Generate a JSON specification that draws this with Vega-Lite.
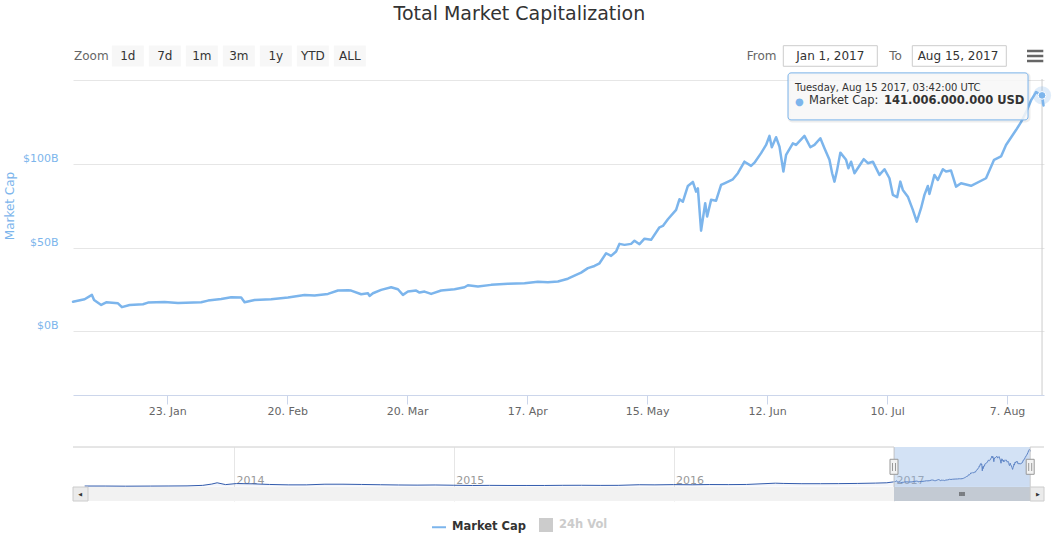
{
"$schema":"https://vega.github.io/schema/vega-lite/v6.json",
"background":"#ffffff",
"padding":{"left":3,"top":5,"right":4,"bottom":2},
"title":{"text":"Total Market Capitalization","fontSize":19,"fontWeight":"normal","color":"#333333","offset":21,"anchor":"middle","dx":-8},
"datasets":{
"tip":[{"date":"2017-08-15T03:42:00","value":141.006}],
"mc":[
{"date":"2017-01-01T00:00","value":17.7},{"date":"2017-01-03T17:00","value":19.2},{"date":"2017-01-05T10:00","value":21.8},{"date":"2017-01-05T22:00","value":18.8},{"date":"2017-01-07T14:00","value":15.8},{"date":"2017-01-08T18:00","value":17.4},{"date":"2017-01-11T12:00","value":16.8},{"date":"2017-01-12T10:00","value":14.5},{"date":"2017-01-14T05:00","value":15.8},{"date":"2017-01-17T08:00","value":16.2},{"date":"2017-01-18T12:00","value":17.2},{"date":"2017-01-22T09:00","value":17.6},{"date":"2017-01-25T12:00","value":17.0},{"date":"2017-01-30T22:00","value":17.4},
{"date":"2017-02-01T12:00","value":18.4},{"date":"2017-02-04T14:00","value":19.4},{"date":"2017-02-06T22:00","value":20.4},{"date":"2017-02-09T06:00","value":20.2},{"date":"2017-02-10T01:00","value":17.4},{"date":"2017-02-12T09:00","value":18.8},{"date":"2017-02-16T06:00","value":19.2},{"date":"2017-02-20T04:00","value":20.2},{"date":"2017-02-24T01:00","value":21.8},{"date":"2017-02-26T09:00","value":21.4},
{"date":"2017-03-01T12:00","value":22.4},{"date":"2017-03-03T20:00","value":24.4},{"date":"2017-03-06T04:00","value":24.6},{"date":"2017-03-06T22:00","value":24.4},{"date":"2017-03-09T06:00","value":22.2},{"date":"2017-03-10T20:00","value":22.8},{"date":"2017-03-11T05:00","value":21.2},{"date":"2017-03-12T00:00","value":22.8},{"date":"2017-03-13T22:00","value":24.8},{"date":"2017-03-16T06:00","value":26.4},{"date":"2017-03-17T20:00","value":25.2},{"date":"2017-03-19T00:00","value":21.8},{"date":"2017-03-20T04:00","value":23.8},{"date":"2017-03-22T02:00","value":24.4},{"date":"2017-03-22T21:00","value":23.2},{"date":"2017-03-24T01:00","value":23.8},{"date":"2017-03-25T14:00","value":22.4},{"date":"2017-03-27T22:00","value":24.4},{"date":"2017-03-31T01:00","value":25.2},
{"date":"2017-04-02T09:00","value":26.4},{"date":"2017-04-03T04:00","value":27.6},{"date":"2017-04-05T12:00","value":26.8},{"date":"2017-04-08T14:00","value":27.8},{"date":"2017-04-12T12:00","value":28.4},{"date":"2017-04-16T09:00","value":28.8},{"date":"2017-04-19T12:00","value":29.6},{"date":"2017-04-21T20:00","value":29.4},{"date":"2017-04-24T04:00","value":29.8},{"date":"2017-04-26T12:00","value":31.5},{"date":"2017-04-28T10:00","value":33.8},{"date":"2017-04-29T14:00","value":35.1},
{"date":"2017-05-01T04:00","value":37.8},{"date":"2017-05-02T17:00","value":39.1},{"date":"2017-05-03T21:00","value":40.7},{"date":"2017-05-05T10:00","value":46.7},{"date":"2017-05-06T14:00","value":45.1},{"date":"2017-05-07T18:00","value":47.7},{"date":"2017-05-08T13:00","value":52.3},{"date":"2017-05-09T17:00","value":51.7},{"date":"2017-05-11T06:00","value":52.3},{"date":"2017-05-12T01:00","value":54.2},{"date":"2017-05-13T05:00","value":52.1},{"date":"2017-05-14T09:00","value":55.4},{"date":"2017-05-15T22:00","value":54.7},{"date":"2017-05-17T21:00","value":62.2},{"date":"2017-05-18T16:00","value":63.0},{"date":"2017-05-19T20:00","value":67.0},{"date":"2017-05-21T18:00","value":72.6},{"date":"2017-05-22T13:00","value":79.0},{"date":"2017-05-23T08:00","value":77.5},{"date":"2017-05-24T12:00","value":86.9},{"date":"2017-05-25T16:00","value":89.3},{"date":"2017-05-26T10:00","value":83.5},{"date":"2017-05-26T20:00","value":85.5},{"date":"2017-05-27T14:00","value":60.2},{"date":"2017-05-28T13:00","value":76.6},{"date":"2017-05-29T00:00","value":68.6},{"date":"2017-05-29T22:00","value":78.6},{"date":"2017-05-31T02:00","value":78.1},
{"date":"2017-06-01T06:00","value":87.5},{"date":"2017-06-02T01:00","value":88.5},{"date":"2017-06-04T00:00","value":90.9},{"date":"2017-06-05T04:00","value":94.5},{"date":"2017-06-06T17:00","value":101.4},{"date":"2017-06-08T06:00","value":98.9},{"date":"2017-06-09T01:00","value":100.8},{"date":"2017-06-10T14:00","value":106.5},{"date":"2017-06-11T18:00","value":111.4},{"date":"2017-06-12T13:00","value":116.8},{"date":"2017-06-13T02:00","value":110.0},{"date":"2017-06-14T02:00","value":116.0},{"date":"2017-06-14T21:00","value":110.4},{"date":"2017-06-15T19:00","value":95.5},{"date":"2017-06-16T10:00","value":105.4},{"date":"2017-06-18T00:00","value":112.4},{"date":"2017-06-18T18:00","value":111.4},{"date":"2017-06-20T17:00","value":116.8},{"date":"2017-06-22T02:00","value":110.0},{"date":"2017-06-23T01:00","value":111.4},{"date":"2017-06-24T10:00","value":115.4},{"date":"2017-06-25T09:00","value":109.4},{"date":"2017-06-26T13:00","value":102.5},{"date":"2017-06-27T04:00","value":94.5},{"date":"2017-06-27T17:00","value":89.5},{"date":"2017-06-28T08:00","value":96.5},{"date":"2017-06-29T02:00","value":106.8},{"date":"2017-06-30T10:00","value":102.5},{"date":"2017-06-30T23:00","value":97.5},
{"date":"2017-07-01T14:00","value":101.4},{"date":"2017-07-02T09:00","value":94.5},{"date":"2017-07-03T22:00","value":100.5},{"date":"2017-07-04T13:00","value":102.9},{"date":"2017-07-05T12:00","value":100.5},{"date":"2017-07-06T16:00","value":101.4},{"date":"2017-07-08T05:00","value":93.5},{"date":"2017-07-09T09:00","value":96.9},{"date":"2017-07-10T13:00","value":91.5},{"date":"2017-07-11T08:00","value":81.6},{"date":"2017-07-12T08:00","value":80.2},{"date":"2017-07-13T02:00","value":89.5},{"date":"2017-07-13T16:00","value":84.5},{"date":"2017-07-14T20:00","value":80.5},{"date":"2017-07-16T00:00","value":72.6},{"date":"2017-07-16T22:00","value":65.6},{"date":"2017-07-17T22:00","value":73.6},{"date":"2017-07-18T17:00","value":81.6},{"date":"2017-07-19T12:00","value":86.9},{"date":"2017-07-19T21:00","value":82.1},{"date":"2017-07-21T01:00","value":93.5},{"date":"2017-07-21T20:00","value":90.5},{"date":"2017-07-23T00:00","value":96.9},{"date":"2017-07-23T18:00","value":95.5},{"date":"2017-07-24T22:00","value":96.1},{"date":"2017-07-26T02:00","value":86.5},{"date":"2017-07-27T06:00","value":88.5},{"date":"2017-07-29T14:00","value":87.0},
{"date":"2017-08-02T02:00","value":91.5},{"date":"2017-08-03T23:00","value":102.5},{"date":"2017-08-05T14:00","value":104.5},{"date":"2017-08-06T18:00","value":111.4},{"date":"2017-08-09T02:00","value":120.3},{"date":"2017-08-10T06:00","value":125.0},{"date":"2017-08-11T10:00","value":131.0},{"date":"2017-08-12T14:00","value":138.0},{"date":"2017-08-13T18:00","value":143.0},{"date":"2017-08-15T03:42","value":141.006},{"date":"2017-08-15T12:00","value":135.0}
],
"hist":[
{"date":"2013-04-28T00:00","value":1.5},{"date":"2013-06-01T00:00","value":1.4},{"date":"2013-07-05T00:00","value":0.9},{"date":"2013-08-15T00:00","value":1.3},{"date":"2013-09-15T00:00","value":1.6},{"date":"2013-10-15T00:00","value":2.0},{"date":"2013-11-10T00:00","value":4.0},{"date":"2013-11-25T00:00","value":9.0},{"date":"2013-12-04T00:00","value":14.0},{"date":"2013-12-18T00:00","value":7.0},
{"date":"2014-01-05T00:00","value":11.0},{"date":"2014-02-01T00:00","value":10.0},{"date":"2014-03-01T00:00","value":7.5},{"date":"2014-04-01T00:00","value":6.0},{"date":"2014-05-01T00:00","value":6.0},{"date":"2014-06-01T00:00","value":8.5},{"date":"2014-07-01T00:00","value":8.5},{"date":"2014-08-01T00:00","value":7.5},{"date":"2014-09-01T00:00","value":6.5},{"date":"2014-10-01T00:00","value":5.5},{"date":"2014-11-01T00:00","value":5.0},{"date":"2014-12-01T00:00","value":5.5},
{"date":"2015-01-01T00:00","value":4.5},{"date":"2015-02-01T00:00","value":3.5},{"date":"2015-03-01T00:00","value":4.0},{"date":"2015-04-01T00:00","value":3.6},{"date":"2015-05-01T00:00","value":3.6},{"date":"2015-06-01T00:00","value":3.6},{"date":"2015-07-01T00:00","value":4.2},{"date":"2015-08-01T00:00","value":4.4},{"date":"2015-09-01T00:00","value":3.9},{"date":"2015-10-01T00:00","value":4.1},{"date":"2015-11-05T00:00","value":6.5},{"date":"2015-12-01T00:00","value":6.0},
{"date":"2016-01-01T00:00","value":7.0},{"date":"2016-02-01T00:00","value":6.3},{"date":"2016-03-01T00:00","value":7.3},{"date":"2016-04-01T00:00","value":7.0},{"date":"2016-05-01T00:00","value":7.5},{"date":"2016-06-18T00:00","value":12.5},{"date":"2016-07-01T00:00","value":11.5},{"date":"2016-08-01T00:00","value":10.5},{"date":"2016-09-01T00:00","value":10.5},{"date":"2016-10-01T00:00","value":10.8},{"date":"2016-11-01T00:00","value":11.5},{"date":"2016-12-01T00:00","value":12.8},{"date":"2016-12-20T00:00","value":14.0},{"date":"2017-01-01T00:00","value":17.7}
]
},
"spacing":52,
"bounds":"flush",
"resolve":{"scale":{"x":"independent","y":"independent"}},
"vconcat":[
{
"width":971,"height":316,
"layer":[
{"data":{"name":"tip"},"mark":{"type":"rule","color":"#cccccc","strokeWidth":1},
 "encoding":{"x":{"field":"date","type":"temporal","scale":{"domain":[{"year":2017,"month":1,"date":1},{"year":2017,"month":8,"date":15,"hours":14,"minutes":40}]},
  "axis":{"values":[{"year":2017,"month":1,"date":23},{"year":2017,"month":2,"date":20},{"year":2017,"month":3,"date":20},{"year":2017,"month":4,"date":17},{"year":2017,"month":5,"date":15},{"year":2017,"month":6,"date":12},{"year":2017,"month":7,"date":10},{"year":2017,"month":8,"date":7}],
  "format":"%-d. %b","grid":false,"domainColor":"#ccd6eb","tickColor":"#ccd6eb","tickSize":9,"labelColor":"#666666","labelFontSize":11,"labelPadding":1,"title":null,"labelFlush":false,"labelOverlap":false}}}},
{"data":{"name":"mc"},"mark":{"type":"line","strokeWidth":2.5,"strokeJoin":"round","strokeCap":"round"},
 "encoding":{"x":{"field":"date","type":"temporal"},
  "y":{"field":"value","type":"quantitative","scale":{"domain":[-38,150.8],"nice":false,"zero":false},
   "axis":{"values":[0,50,100,150],"labelExpr":"datum.value == 150 ? '' : '$' + datum.value + 'B'","title":"Market Cap","titleColor":"#7cb5ec","titleFontSize":12,"titleFontWeight":"normal","titleX":-63.3,"titleY":126.5,"titleAngle":270,"titleAlign":"center","titleBaseline":"middle","labelColor":"#7cb5ec","labelFontSize":11,"labelPadding":15,"labelBaseline":"alphabetic","labelOffset":-2.5,"domain":false,"ticks":false,"grid":true,"gridColor":"#e6e6e6"}},
  "color":{"datum":"Market Cap","scale":{"domain":["Market Cap","24h Vol"],"range":["#7cb5ec","#cccccc"]},
   "legend":{"orient":"none","legendX":358,"legendY":438,"direction":"horizontal","title":null,"labelFontSize":11.5,"labelFontWeight":"bold","labelColor":"#333333","labelOffset":5,"columnPadding":10,"symbolSize":196,"symbolStrokeWidth":2,
    "encode":{"symbols":{"update":{"shape":{"signal":"datum.value === '24h Vol' ? 'square' : 'stroke'"},"fill":{"signal":"datum.value === '24h Vol' ? '#cccccc' : 'transparent'"},"stroke":{"signal":"datum.value === '24h Vol' ? 'transparent' : '#7cb5ec'"},"size":{"signal":"datum.value === '24h Vol' ? 144 : 196"}}},
     "labels":{"update":{"fill":{"signal":"datum.value === '24h Vol' ? '#cccccc' : '#333333'"}}}}}}}},
{"data":{"name":"tip"},"mark":{"type":"point","filled":true,"size":330,"color":"#7cb5ec","opacity":0.25},"encoding":{"x":{"field":"date","type":"temporal"},"y":{"field":"value","type":"quantitative"}}},
{"data":{"name":"tip"},"mark":{"type":"point","filled":true,"size":60,"color":"#7cb5ec","stroke":"#ffffff","strokeWidth":1,"opacity":1},"encoding":{"x":{"field":"date","type":"temporal"},"y":{"field":"value","type":"quantitative"}}},
{"data":{"name":"tip"},"mark":{"type":"rect","fill":"#ffffff","fillOpacity":0,"stroke":"#000000","strokeOpacity":0.07,"strokeWidth":3,"cornerRadius":3,"xOffset":-253,"x2Offset":-13,"yOffset":-21.5,"y2Offset":25.5},"encoding":{"x":{"field":"date","type":"temporal"},"x2":{"field":"date"},"y":{"field":"value","type":"quantitative"},"y2":{"field":"value"}}},
{"data":{"name":"tip"},"mark":{"type":"rect","fill":"#f7f7f7","fillOpacity":0.85,"stroke":"#7cb5ec","strokeWidth":1,"cornerRadius":3,"xOffset":-254,"x2Offset":-14,"yOffset":-22.5,"y2Offset":24.5},"encoding":{"x":{"field":"date","type":"temporal"},"x2":{"field":"date"},"y":{"field":"value","type":"quantitative"},"y2":{"field":"value"}}},
{"data":{"name":"tip"},"mark":{"type":"text","align":"left","baseline":"alphabetic","dx":-247,"dy":-4,"fontSize":10,"color":"#333333"},"encoding":{"x":{"field":"date","type":"temporal"},"y":{"field":"value","type":"quantitative"},"text":{"field":"date","type":"temporal","format":"%A, %b %d %Y, %H:%M:%S UTC"}}},
{"data":{"name":"tip"},"mark":{"type":"text","align":"left","baseline":"alphabetic","dx":-247,"dy":10,"fontSize":10,"color":"#7cb5ec"},"encoding":{"x":{"field":"date","type":"temporal"},"y":{"field":"value","type":"quantitative"},"text":{"value":"●"}}},
{"data":{"name":"tip"},"mark":{"type":"text","align":"left","baseline":"alphabetic","dx":-233,"dy":9,"fontSize":11.5,"color":"#333333"},"encoding":{"x":{"field":"date","type":"temporal"},"y":{"field":"value","type":"quantitative"},"text":{"value":"Market Cap:"}}},
{"data":{"name":"tip"},"mark":{"type":"text","align":"left","baseline":"alphabetic","dx":-158,"dy":9,"fontSize":11.5,"fontWeight":"bold","color":"#333333"},"encoding":{"x":{"field":"date","type":"temporal"},"y":{"field":"value","type":"quantitative"},"text":{"value":"141.006.000.000 USD"}}},
{"data":{"values":[{"t":"Zoom"}]},"mark":{"type":"text","align":"left","baseline":"alphabetic","fontSize":12,"color":"#666666"},"encoding":{"x":{"datum":{"year":2017,"month":1,"date":1,"hours":5,"minutes":36},"type":"temporal"},"y":{"datum":162.45,"type":"quantitative"},"text":{"field":"t"}}},
{"data":{"values":[{"t":"1d"}]},"encoding":{"x":{"datum":{"year":2017,"month":1,"date":13,"hours":19,"minutes":13},"type":"temporal"}},"layer":[{"mark":{"type":"rect","fill":"#f7f7f7","xOffset":-16,"x2Offset":16},"encoding":{"x2":{"datum":{"year":2017,"month":1,"date":13,"hours":19,"minutes":13}},"y":{"datum":170.8,"type":"quantitative"},"y2":{"datum":158.3}}},{"mark":{"type":"text","align":"center","baseline":"alphabetic","fontSize":12,"color":"#333333"},"encoding":{"y":{"datum":162.45,"type":"quantitative"},"text":{"field":"t"}}}]},
{"data":{"values":[{"t":"7d"}]},"encoding":{"x":{"datum":{"year":2017,"month":1,"date":22,"hours":10,"minutes":28},"type":"temporal"}},"layer":[{"mark":{"type":"rect","fill":"#f7f7f7","xOffset":-16,"x2Offset":16},"encoding":{"x2":{"datum":{"year":2017,"month":1,"date":22,"hours":10,"minutes":28}},"y":{"datum":170.8,"type":"quantitative"},"y2":{"datum":158.3}}},{"mark":{"type":"text","align":"center","baseline":"alphabetic","fontSize":12,"color":"#333333"},"encoding":{"y":{"datum":162.45,"type":"quantitative"},"text":{"field":"t"}}}]},
{"data":{"values":[{"t":"1m"}]},"encoding":{"x":{"datum":{"year":2017,"month":1,"date":31,"hours":1,"minutes":42},"type":"temporal"}},"layer":[{"mark":{"type":"rect","fill":"#f7f7f7","xOffset":-16,"x2Offset":16},"encoding":{"x2":{"datum":{"year":2017,"month":1,"date":31,"hours":1,"minutes":42}},"y":{"datum":170.8,"type":"quantitative"},"y2":{"datum":158.3}}},{"mark":{"type":"text","align":"center","baseline":"alphabetic","fontSize":12,"color":"#333333"},"encoding":{"y":{"datum":162.45,"type":"quantitative"},"text":{"field":"t"}}}]},
{"data":{"values":[{"t":"3m"}]},"encoding":{"x":{"datum":{"year":2017,"month":2,"date":8,"hours":16,"minutes":57},"type":"temporal"}},"layer":[{"mark":{"type":"rect","fill":"#f7f7f7","xOffset":-16,"x2Offset":16},"encoding":{"x2":{"datum":{"year":2017,"month":2,"date":8,"hours":16,"minutes":57}},"y":{"datum":170.8,"type":"quantitative"},"y2":{"datum":158.3}}},{"mark":{"type":"text","align":"center","baseline":"alphabetic","fontSize":12,"color":"#333333"},"encoding":{"y":{"datum":162.45,"type":"quantitative"},"text":{"field":"t"}}}]},
{"data":{"values":[{"t":"1y"}]},"encoding":{"x":{"datum":{"year":2017,"month":2,"date":17,"hours":8,"minutes":11},"type":"temporal"}},"layer":[{"mark":{"type":"rect","fill":"#f7f7f7","xOffset":-16,"x2Offset":16},"encoding":{"x2":{"datum":{"year":2017,"month":2,"date":17,"hours":8,"minutes":11}},"y":{"datum":170.8,"type":"quantitative"},"y2":{"datum":158.3}}},{"mark":{"type":"text","align":"center","baseline":"alphabetic","fontSize":12,"color":"#333333"},"encoding":{"y":{"datum":162.45,"type":"quantitative"},"text":{"field":"t"}}}]},
{"data":{"values":[{"t":"YTD"}]},"encoding":{"x":{"datum":{"year":2017,"month":2,"date":25,"hours":23,"minutes":25},"type":"temporal"}},"layer":[{"mark":{"type":"rect","fill":"#f7f7f7","xOffset":-16,"x2Offset":16},"encoding":{"x2":{"datum":{"year":2017,"month":2,"date":25,"hours":23,"minutes":25}},"y":{"datum":170.8,"type":"quantitative"},"y2":{"datum":158.3}}},{"mark":{"type":"text","align":"center","baseline":"alphabetic","fontSize":12,"color":"#333333"},"encoding":{"y":{"datum":162.45,"type":"quantitative"},"text":{"field":"t"}}}]},
{"data":{"values":[{"t":"ALL"}]},"encoding":{"x":{"datum":{"year":2017,"month":3,"date":6,"hours":14,"minutes":40},"type":"temporal"}},"layer":[{"mark":{"type":"rect","fill":"#f7f7f7","xOffset":-16,"x2Offset":16},"encoding":{"x2":{"datum":{"year":2017,"month":3,"date":6,"hours":14,"minutes":40}},"y":{"datum":170.8,"type":"quantitative"},"y2":{"datum":158.3}}},{"mark":{"type":"text","align":"center","baseline":"alphabetic","fontSize":12,"color":"#333333"},"encoding":{"y":{"datum":162.45,"type":"quantitative"},"text":{"field":"t"}}}]},
{"data":{"values":[{"t":"From"}]},"mark":{"type":"text","align":"left","baseline":"alphabetic","fontSize":12,"color":"#666666"},"encoding":{"x":{"datum":{"year":2017,"month":6,"date":7,"hours":5,"minutes":25},"type":"temporal"},"y":{"datum":162.45,"type":"quantitative"},"text":{"field":"t"}}},
{"data":{"values":[{"t":"Jan 1, 2017"}]},"layer":[{"mark":{"type":"rect","fill":"#ffffff","stroke":"#cccccc","strokeWidth":1},"encoding":{"x":{"datum":{"year":2017,"month":6,"date":15,"hours":18,"minutes":29},"type":"temporal"},"x2":{"datum":{"year":2017,"month":7,"date":7,"hours":16,"minutes":59}},"y":{"datum":170.7,"type":"quantitative"},"y2":{"datum":158.4}}},{"mark":{"type":"text","align":"center","baseline":"alphabetic","fontSize":12,"color":"#333333"},"encoding":{"x":{"datum":{"year":2017,"month":6,"date":26,"hours":17,"minutes":41},"type":"temporal"},"y":{"datum":162.45,"type":"quantitative"},"text":{"field":"t"}}}]},
{"data":{"values":[{"t":"To"}]},"mark":{"type":"text","align":"left","baseline":"alphabetic","fontSize":12,"color":"#666666"},"encoding":{"x":{"datum":{"year":2017,"month":7,"date":10,"hours":12,"minutes":13},"type":"temporal"},"y":{"datum":162.45,"type":"quantitative"},"text":{"field":"t"}}},
{"data":{"values":[{"t":"Aug 15, 2017"}]},"layer":[{"mark":{"type":"rect","fill":"#ffffff","stroke":"#cccccc","strokeWidth":1},"encoding":{"x":{"datum":{"year":2017,"month":7,"date":15,"hours":21,"minutes":0},"type":"temporal"},"x2":{"datum":{"year":2017,"month":8,"date":6,"hours":19,"minutes":31}},"y":{"datum":170.7,"type":"quantitative"},"y2":{"datum":158.4}}},{"mark":{"type":"text","align":"center","baseline":"alphabetic","fontSize":12,"color":"#333333"},"encoding":{"x":{"datum":{"year":2017,"month":7,"date":26,"hours":12,"minutes":59},"type":"temporal"},"y":{"datum":162.45,"type":"quantitative"},"text":{"field":"t"}}}]},
{"data":{"values":[{}]},"mark":{"type":"rule","color":"#666666","strokeWidth":2.5},"encoding":{"x":{"datum":{"year":2017,"month":8,"date":11,"hours":15,"minutes":26},"type":"temporal"},"x2":{"datum":{"year":2017,"month":8,"date":15,"hours":10,"minutes":44}},"y":{"datum":167.53,"type":"quantitative"}}},
{"data":{"values":[{}]},"mark":{"type":"rule","color":"#666666","strokeWidth":2.5},"encoding":{"x":{"datum":{"year":2017,"month":8,"date":11,"hours":15,"minutes":26},"type":"temporal"},"x2":{"datum":{"year":2017,"month":8,"date":15,"hours":10,"minutes":44}},"y":{"datum":164.54,"type":"quantitative"}}},
{"data":{"values":[{}]},"mark":{"type":"rule","color":"#666666","strokeWidth":2.5},"encoding":{"x":{"datum":{"year":2017,"month":8,"date":11,"hours":15,"minutes":26},"type":"temporal"},"x2":{"datum":{"year":2017,"month":8,"date":15,"hours":10,"minutes":44}},"y":{"datum":161.55,"type":"quantitative"}}}
]
},
{
"width":971,"height":54,
"layer":[
{"data":{"values":[{}]},"mark":{"type":"rect","fill":"#f2f2f2"},"encoding":{"y":{"datum":-2.3,"type":"quantitative","scale":{"domain":[-56.4,152.3],"nice":false,"zero":false},"axis":null},"y2":{"datum":-56.4}}},
{"data":{"name":"hist"},"mark":{"type":"area","color":"#335cad","opacity":0.06},"encoding":{"x":{"field":"date","type":"temporal","scale":{"domain":[{"year":2013,"month":4,"date":8,"hours":15,"minutes":22},{"year":2017,"month":9,"date":7,"hours":2,"minutes":10}]},
  "axis":{"values":[{"year":2014,"month":1,"date":1},{"year":2015,"month":1,"date":1},{"year":2016,"month":1,"date":1},{"year":2017,"month":1,"date":1}],"format":"%Y","grid":true,"gridColor":"#e6e6e6","domain":false,"ticks":false,"tickSize":0,"labelAlign":"left","labelBaseline":"alphabetic","labelPadding":-17.3,"labelOffset":2,"labelColor":"#999999","labelFontSize":11,"title":null,"labelFlush":false,"labelOverlap":false}},
  "y":{"field":"value","type":"quantitative"}}},
{"data":{"name":"mc"},"mark":{"type":"area","color":"#335cad","opacity":0.06},"encoding":{"x":{"field":"date","type":"temporal"},"y":{"field":"value","type":"quantitative"}}},
{"data":{"name":"hist"},"mark":{"type":"line","color":"#335cad","strokeWidth":1},"encoding":{"x":{"field":"date","type":"temporal"},"y":{"field":"value","type":"quantitative"}}},
{"data":{"name":"mc"},"mark":{"type":"line","color":"#335cad","strokeWidth":1},"encoding":{"x":{"field":"date","type":"temporal"},"y":{"field":"value","type":"quantitative"}}},
{"data":{"values":[{}]},"mark":{"type":"rect","fill":"#97bbe6","fillOpacity":0.42},"encoding":{"x":{"datum":{"year":2017,"month":1,"date":1},"type":"temporal"},"x2":{"datum":{"year":2017,"month":8,"date":15,"hours":3,"minutes":42}},"y":{"datum":152.3,"type":"quantitative"},"y2":{"datum":-2.3}}},
{"data":{"values":[{}]},"mark":{"type":"rule","color":"#cccccc","strokeWidth":1},"encoding":{"x":{"datum":{"year":2013,"month":4,"date":8,"hours":15,"minutes":22},"type":"temporal"},"x2":{"datum":{"year":2017,"month":1,"date":1}},"y":{"datum":152.3,"type":"quantitative"}}},
{"data":{"values":[{}]},"mark":{"type":"rule","color":"#cccccc","strokeWidth":1},"encoding":{"x":{"datum":{"year":2017,"month":8,"date":15,"hours":3,"minutes":42},"type":"temporal"},"x2":{"datum":{"year":2017,"month":9,"date":7,"hours":2,"minutes":10}},"y":{"datum":152.3,"type":"quantitative"}}},
{"data":{"values":[{}]},"mark":{"type":"rule","color":"#cccccc","strokeWidth":1},"encoding":{"x":{"datum":{"year":2017,"month":1,"date":1},"type":"temporal"},"y":{"datum":152.3,"type":"quantitative"},"y2":{"datum":-2.3}}},
{"data":{"values":[{}]},"mark":{"type":"rule","color":"#cccccc","strokeWidth":1},"encoding":{"x":{"datum":{"year":2017,"month":8,"date":15,"hours":3,"minutes":42},"type":"temporal"},"y":{"datum":152.3,"type":"quantitative"},"y2":{"datum":-2.3}}},
{"data":{"values":[{}]},"mark":{"type":"rect","fill":"#c3cad3"},"encoding":{"x":{"datum":{"year":2017,"month":1,"date":1},"type":"temporal"},"x2":{"datum":{"year":2017,"month":8,"date":15,"hours":3,"minutes":42}},"y":{"datum":-2.3,"type":"quantitative"},"y2":{"datum":-56.4}}},
{"data":{"values":[{}]},"mark":{"type":"rule","color":"#333333","strokeWidth":1,"xOffset":-2},"encoding":{"x":{"datum":{"year":2017,"month":4,"date":23,"hours":21,"minutes":36},"type":"temporal"},"y":{"datum":-21.6,"type":"quantitative"},"y2":{"datum":-37.1}}},
{"data":{"values":[{}]},"mark":{"type":"rule","color":"#333333","strokeWidth":1},"encoding":{"x":{"datum":{"year":2017,"month":4,"date":23,"hours":21,"minutes":36},"type":"temporal"},"y":{"datum":-21.6,"type":"quantitative"},"y2":{"datum":-37.1}}},
{"data":{"values":[{}]},"mark":{"type":"rule","color":"#333333","strokeWidth":1,"xOffset":2},"encoding":{"x":{"datum":{"year":2017,"month":4,"date":23,"hours":21,"minutes":36},"type":"temporal"},"y":{"datum":-21.6,"type":"quantitative"},"y2":{"datum":-37.1}}},
{"data":{"values":[{}]},"mark":{"type":"rect","fill":"#ebebeb","stroke":"#cccccc","strokeWidth":1},"encoding":{"x":{"datum":{"year":2013,"month":4,"date":8,"hours":15,"minutes":22},"type":"temporal"},"x2":{"datum":{"year":2013,"month":5,"date":3,"hours":13}},"y":{"datum":-2.3,"type":"quantitative"},"y2":{"datum":-56.4}}},
{"data":{"values":[{}]},"mark":{"type":"rect","fill":"#ebebeb","stroke":"#cccccc","strokeWidth":1},"encoding":{"x":{"datum":{"year":2017,"month":8,"date":15,"hours":3,"minutes":42},"type":"temporal"},"x2":{"datum":{"year":2017,"month":9,"date":7,"hours":2,"minutes":10}},"y":{"datum":-2.3,"type":"quantitative"},"y2":{"datum":-56.4}}},
{"data":{"values":[{"t":"◀"}]},"mark":{"type":"text","align":"center","baseline":"middle","fontSize":5,"color":"#333333"},"encoding":{"x":{"datum":{"year":2013,"month":4,"date":20,"hours":14},"type":"temporal"},"y":{"datum":-29.4,"type":"quantitative"},"text":{"field":"t"}}},
{"data":{"values":[{"t":"▶"}]},"mark":{"type":"text","align":"center","baseline":"middle","fontSize":5,"color":"#333333"},"encoding":{"x":{"datum":{"year":2017,"month":8,"date":28,"hours":2},"type":"temporal"},"y":{"datum":-29.4,"type":"quantitative"},"text":{"field":"t"}}},
{"data":{"values":[{}]},"mark":{"type":"rect","fill":"#f2f2f2","stroke":"#999999","strokeWidth":1,"xOffset":-4,"x2Offset":4},"encoding":{"x":{"datum":{"year":2017,"month":1,"date":1},"type":"temporal"},"x2":{"datum":{"year":2017,"month":1,"date":1}},"y":{"datum":104.8,"type":"quantitative"},"y2":{"datum":46.8}}},
{"data":{"values":[{}]},"mark":{"type":"rect","fill":"#f2f2f2","stroke":"#999999","strokeWidth":1,"xOffset":-4,"x2Offset":4},"encoding":{"x":{"datum":{"year":2017,"month":8,"date":15,"hours":3,"minutes":42},"type":"temporal"},"x2":{"datum":{"year":2017,"month":8,"date":15,"hours":3,"minutes":42}},"y":{"datum":104.8,"type":"quantitative"},"y2":{"datum":46.8}}},
{"data":{"values":[{}]},"mark":{"type":"rule","color":"#999999","strokeWidth":1,"xOffset":-1.5},"encoding":{"x":{"datum":{"year":2017,"month":1,"date":1},"type":"temporal"},"y":{"datum":90.5,"type":"quantitative"},"y2":{"datum":59.5}}},
{"data":{"values":[{}]},"mark":{"type":"rule","color":"#999999","strokeWidth":1,"xOffset":1.5},"encoding":{"x":{"datum":{"year":2017,"month":1,"date":1},"type":"temporal"},"y":{"datum":90.5,"type":"quantitative"},"y2":{"datum":59.5}}},
{"data":{"values":[{}]},"mark":{"type":"rule","color":"#999999","strokeWidth":1,"xOffset":-1.5},"encoding":{"x":{"datum":{"year":2017,"month":8,"date":15,"hours":3,"minutes":42},"type":"temporal"},"y":{"datum":90.5,"type":"quantitative"},"y2":{"datum":59.5}}},
{"data":{"values":[{}]},"mark":{"type":"rule","color":"#999999","strokeWidth":1,"xOffset":1.5},"encoding":{"x":{"datum":{"year":2017,"month":8,"date":15,"hours":3,"minutes":42},"type":"temporal"},"y":{"datum":90.5,"type":"quantitative"},"y2":{"datum":59.5}}}
]
}
],
"config":{"font":"DejaVu Sans","view":{"stroke":null},"axis":{"labelFont":"DejaVu Sans","titleFont":"DejaVu Sans"},"legend":{"labelFont":"DejaVu Sans"},"title":{"font":"DejaVu Sans"}}
}
